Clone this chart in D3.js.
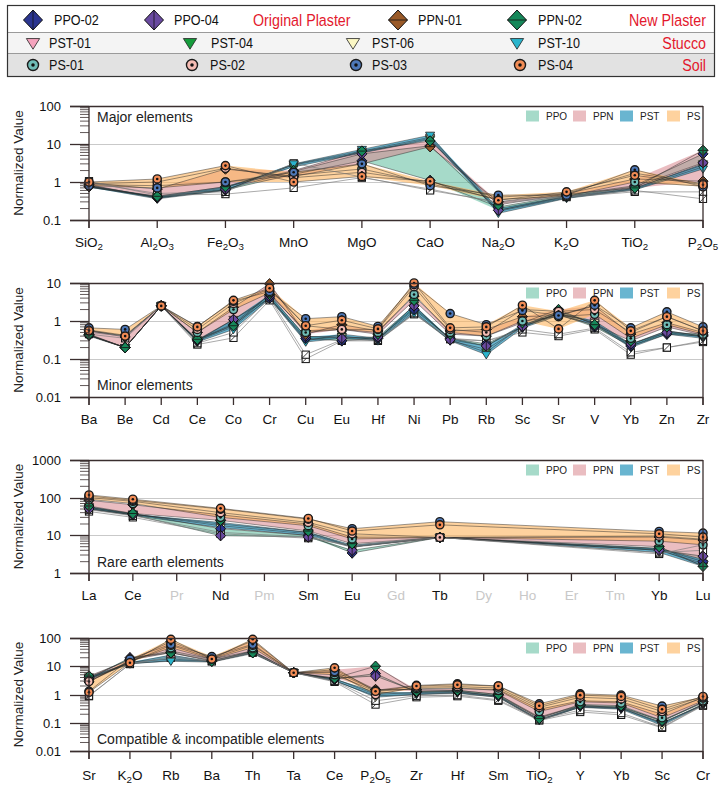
<!DOCTYPE html>
<html><head><meta charset="utf-8">
<script src="https://cdn.jsdelivr.net/npm/d3@7"></script>
<style>body{margin:0;background:#fff}svg{display:block}</style>
</head><body><svg id="c" width="723" height="791"></svg>
<script>
// ---------- samples ----------
const sampleNames  = ["PPO-02","PPO-04","PPN-01","PPN-02","PST-01","PST-04","PST-06","PST-10","PS-01","PS-02","PS-03","PS-04","REF-A","REF-B"];
const sampleGroups = ["PPO","PPO","PPN","PPN","PST","PST","PST","PST","PS","PS","PS","PS","REF","REF"];
const sampleShapes = ["diamondV","diamondV","diamondH","diamondH","tri","tri","tri","tri","circle","circle","circle","circle","square","square"];
const sampleColors = ["#2b3590","#6a4aa0","#9a5a28","#16885a","#f5a3bd","#169c3c","#fbf7c4","#2ab4cc","#6fbcb6","#f6bcb4","#4d78b8","#f28c55","#ffffff","#ffffff"];

const groupNames   = ["PPO","PPN","PST","PS"];
const groupFills   = ["#5dbb9c","#d9868e","#2a96bc","#fdb45e"];
const groupOpacity = [0.55,0.55,0.7,0.6];

// ---------- categories ----------
const majorCats = ["SiO_2","Al_2O_3","Fe_2O_3","MnO","MgO","CaO","Na_2O","K_2O","TiO_2","P_2O_5"];
const minorCats = ["Ba","Be","Cd","Ce","Co","Cr","Cu","Eu","Hf","Ni","Pb","Rb","Sc","Sr","V","Yb","Zn","Zr"];
const reeCats   = ["La","Ce","Pr","Nd","Pm","Sm","Eu","Gd","Tb","Dy","Ho","Er","Tm","Yb","Lu"];
const reeMissing = ["Pr","Pm","Gd","Dy","Ho","Er","Tm"];
const compCats  = ["Sr","K_2O","Rb","Ba","Th","Ta","Ce","P_2O_5","Zr","Hf","Sm","TiO_2","Y","Yb","Sc","Cr"];

// ---------- values (rows in sampleNames order) ----------
const majorValues = [
  [0.85,0.38,0.62,1.6,3.6,1.1,0.22,0.45,0.8,5.5],
  [0.75,0.40,0.65,1.9,5.5,9.0,0.18,0.42,0.75,3.2],
  [0.95,0.65,2.2,1.4,3.0,8.5,0.30,0.50,1.2,1.05],
  [0.78,0.42,0.75,2.0,6.5,12,0.25,0.48,0.7,6.8],
  [0.80,0.40,0.70,2.8,6.0,14,0.18,0.40,0.65,2.5],
  [0.72,0.42,0.75,2.5,5.8,13,0.17,0.38,0.68,3.0],
  [0.78,0.38,0.62,2.9,6.5,15,0.20,0.42,0.70,2.8],
  [0.75,0.36,0.60,3.0,7.2,17,0.15,0.37,0.62,2.2],
  [0.85,0.80,1.0,1.5,2.2,0.9,0.35,0.42,1.0,0.78],
  [0.90,1.0,2.3,1.3,1.8,1.0,0.40,0.50,1.7,0.9],
  [0.80,0.70,1.0,1.8,3.0,0.8,0.45,0.45,2.1,0.75],
  [1.0,1.2,2.7,1.0,1.4,1.05,0.33,0.55,1.5,0.85],
  [1.05,0.45,0.48,0.7,1.3,0.65,0.28,0.40,0.55,0.55],
  [0.95,0.50,0.55,3.1,1.35,0.6,0.30,0.42,0.6,0.36]
];
const minorValues = [
  [0.42,0.2,2.5,0.30,0.80,4.0,0.35,0.30,0.35,2.0,0.35,0.25,0.70,1.5,0.70,0.22,0.45,0.40],
  [0.45,0.2,2.5,0.32,1.10,4.5,0.40,0.35,0.38,2.5,0.32,0.22,0.72,1.6,0.75,0.25,0.50,0.45],
  [0.55,0.38,2.5,0.50,2.30,9.5,0.45,0.80,0.55,4.5,0.55,0.60,1.3,1.4,2.5,0.45,0.90,0.50],
  [0.44,0.2,2.5,0.33,0.75,5.0,0.55,0.60,0.45,3.5,0.45,0.40,0.90,2.0,0.80,0.30,0.70,0.42],
  [0.42,0.2,2.5,0.30,1.10,4.0,0.30,0.45,0.35,2.2,0.35,0.22,0.80,1.5,1.0,0.25,0.55,0.40],
  [0.40,0.2,2.5,0.32,0.85,5.0,0.38,0.40,0.32,2.6,0.32,0.15,0.75,1.8,0.85,0.22,0.50,0.38],
  [0.43,0.2,2.5,0.30,0.70,4.2,0.32,0.38,0.33,1.8,0.30,0.18,0.70,1.6,0.90,0.24,0.55,0.40],
  [0.42,0.2,2.5,0.28,0.60,3.8,0.28,0.35,0.30,1.6,0.30,0.13,0.65,1.4,0.80,0.20,0.45,0.35],
  [0.55,0.40,2.5,0.50,2.0,5.5,0.50,0.60,0.50,5.0,0.50,0.40,1.0,1.3,1.5,0.35,0.80,0.45],
  [0.58,0.42,2.5,0.60,2.9,7.0,0.75,0.60,0.60,8.0,0.60,0.50,2.0,1.8,2.0,0.50,1.3,0.55],
  [0.66,0.60,2.5,0.72,3.3,6.0,1.15,1.3,0.72,9.0,1.57,0.80,1.9,1.4,2.6,0.66,1.74,0.70],
  [0.56,0.40,2.5,0.70,3.5,7.3,0.75,1.05,0.62,10,0.66,0.70,2.6,0.62,3.5,0.55,1.3,0.55],
  [0.50,0.40,2.5,0.24,0.36,3.5,0.10,0.30,0.30,1.5,0.33,0.30,0.50,0.40,0.60,0.13,0.20,0.28],
  [0.45,0.35,2.5,0.26,0.50,4.0,0.13,0.32,0.32,1.6,0.35,0.30,0.60,0.45,0.65,0.15,0.20,0.30]
];
// La, Ce, Pr, Nd, Pm, Sm, Eu, Gd, Tb, Dy, Ho, Er, Tm, Yb, Lu
const reeValues = [
  [55,38,null,15,null,10,3.4,null,8.8,null,null,null,null,4.5,2.0],
  [50,35,null,9.8,null,9,4.0,null,8.8,null,null,null,null,4.0,2.8],
  [85,65,null,35,null,20,9.0,null,8.8,null,null,null,null,9.0,7.5],
  [60,38,null,25,null,13,6.0,null,8.8,null,null,null,null,5.0,1.5],
  [58,37,null,18,null,11,5.0,null,8.8,null,null,null,null,4.5,2.3],
  [55,36,null,20,null,12,5.5,null,8.8,null,null,null,null,4.0,1.8],
  [50,34,null,16,null,10,4.8,null,8.8,null,null,null,null,3.5,1.5],
  [52,35,null,22,null,12,5.0,null,8.8,null,null,null,null,4.2,1.6],
  [90,70,null,30,null,18,8.0,null,8.8,null,null,null,null,7.0,5.6],
  [100,80,null,40,null,22,11,null,8.8,null,null,null,null,9.5,7.9],
  [110,85,null,50,null,27,15,null,23,null,null,null,null,12.7,11.5],
  [118,91,null,52,null,28,13,null,19,null,null,null,null,11,9],
  [43,30,null,11,null,8.4,5.5,null,8.8,null,null,null,null,3.2,5.6],
  [48,33,null,12,null,9,5.0,null,8.8,null,null,null,null,3.5,4.0]
];
const compValues = [
  [4.0,18,35,18,35,5.9,3.5,5.5,1.2,1.3,0.9,0.15,0.40,0.35,0.12,0.50],
  [3.5,20,30,16,32,5.9,3.8,4.5,1.3,1.4,1.0,0.16,0.42,0.38,0.11,0.55],
  [2.8,16,75,20,80,5.9,7.5,1.5,1.5,1.6,1.5,0.30,0.60,0.55,0.20,0.80],
  [4.5,17,30,15,30,5.9,3.8,10,1.3,1.4,1.0,0.14,0.45,0.40,0.12,0.55],
  [3.6,14,18,15,35,5.9,3.5,1.2,1.1,1.2,0.9,0.13,0.40,0.35,0.10,0.45],
  [4.2,13,25,14,32,5.9,3.6,1.0,1.2,1.3,0.85,0.13,0.38,0.33,0.09,0.45],
  [3.8,12,16,15,30,5.9,3.2,0.8,1.0,1.1,0.8,0.12,0.35,0.30,0.08,0.42],
  [3.4,13,15,14,28,5.9,3.0,0.9,1.0,1.15,0.8,0.12,0.36,0.32,0.10,0.42],
  [3.0,15,45,18,45,5.9,5.0,1.3,1.6,1.7,1.4,0.25,0.55,0.50,0.15,0.60],
  [2.9,14,55,19,55,5.9,6.0,1.0,1.8,1.9,1.7,0.35,0.80,0.70,0.25,0.75],
  [1.3,18,60,22,60,5.9,6.5,1.4,2.1,2.4,2.0,0.47,1.05,0.95,0.39,0.80],
  [1.2,13.3,90,18,90,5.9,8.8,1.3,2.0,2.2,2.0,0.40,0.95,0.85,0.30,0.85],
  [0.87,12,20,15,30,5.9,2.8,0.44,0.8,0.87,0.6,0.12,0.24,0.19,0.066,0.40],
  [0.9,12,22,15,32,5.9,3.0,0.60,0.9,0.95,0.65,0.13,0.28,0.22,0.07,0.42]
];

const svg = d3.select("#c");
const AX = "#3a2e2e";
const FONT = "'Liberation Sans', Arial, sans-serif";

// ---------- marker drawing ----------
function marker(g, shape, color, cx, cy, s) {
  const sw = 1;
  if (shape === "diamondV" || shape === "diamondH") {
    const w = s, h = s * 1.05;
    g.append("path").attr("d", `M${cx},${cy-h}L${cx+w},${cy}L${cx},${cy+h}L${cx-w},${cy}Z`)
      .attr("fill", color).attr("stroke", "#111").attr("stroke-width", sw);
    if (shape === "diamondV")
      g.append("line").attr("x1", cx).attr("x2", cx).attr("y1", cy-h).attr("y2", cy+h).attr("stroke", "#111").attr("stroke-width", 0.8);
    else
      g.append("line").attr("x1", cx-w).attr("x2", cx+w).attr("y1", cy).attr("y2", cy).attr("stroke", "#111").attr("stroke-width", 0.8);
  } else if (shape === "tri") {
    const w = s * 0.95, h = s * 0.85;
    g.append("path").attr("d", `M${cx-w},${cy-h*0.75}L${cx+w},${cy-h*0.75}L${cx},${cy+h*1.05}Z`)
      .attr("fill", color).attr("stroke", "#222").attr("stroke-width", 0.8);
  } else if (shape === "circle") {
    const r = s * 0.85;
    g.append("circle").attr("cx", cx).attr("cy", cy).attr("r", r)
      .attr("fill", color).attr("stroke", "#1a1a1a").attr("stroke-width", 1.4);
    g.append("circle").attr("cx", cx).attr("cy", cy).attr("r", r * 0.32).attr("fill", "#111");
  } else if (shape === "square") {
    const a = s * 0.75;
    g.append("rect").attr("x", cx-a).attr("y", cy-a).attr("width", 2*a).attr("height", 2*a)
      .attr("fill", "#fff").attr("stroke", "#111").attr("stroke-width", 1);
    g.append("line").attr("x1", cx-a).attr("y1", cy+a).attr("x2", cx+a).attr("y2", cy-a).attr("stroke", "#111").attr("stroke-width", 0.8);
  }
}

// narrow text via horizontal scaling
function narrowText(g, x, y, anchor, size, color, txt) {
  g.append("text").attr("transform", `translate(${x},${y}) scale(0.84,1)`)
    .attr("text-anchor", anchor).attr("font-family", FONT).attr("font-size", size).attr("fill", color).text(txt);
}

// ---------- top legend ----------
const lg = svg.append("g");
lg.append("rect").attr("x", 7.5).attr("y", 5.5).attr("width", 707).attr("height", 27).attr("fill", "#ffffff");
lg.append("rect").attr("x", 7.5).attr("y", 32.5).attr("width", 707).attr("height", 21).attr("fill", "#f4f4f4");
lg.append("rect").attr("x", 7.5).attr("y", 53.5).attr("width", 707).attr("height", 23).attr("fill", "#e2e2e2");
lg.append("line").attr("x1", 7.5).attr("x2", 714.5).attr("y1", 32.5).attr("y2", 32.5).attr("stroke", "#9a9a9a");
lg.append("line").attr("x1", 7.5).attr("x2", 714.5).attr("y1", 53.5).attr("y2", 53.5).attr("stroke", "#9a9a9a");
lg.append("rect").attr("x", 7.5).attr("y", 5.5).attr("width", 707).attr("height", 71).attr("fill", "none").attr("stroke", "#333").attr("stroke-width", 1.2);

const legendX  = [[33,154,398,517],[33,190,353,517],[33,192,356,520]];
const legendTX = [[54,174,418,538],[49,211,372,538],[49,210,372,538]];
const legendY  = [20,43,65];
const legendRows = [[0,1,2,3],[4,5,6,7],[8,9,10,11]];
legendRows.forEach((row, r) => {
  row.forEach((si, k) => {
    const sh = sampleShapes[si];
    const size = sh.startsWith("diamond") ? 9.5 : (sh === "tri" ? 7 : 6.5);
    marker(lg, sh, sampleColors[si], legendX[r][k], legendY[r], size);
    narrowText(lg, legendTX[r][k], legendY[r] + 5, "start", 15, "#111", sampleNames[si]);
  });
});
const redLabels = [["Original Plaster",253,20,"start"],["New Plaster",706,20,"end"],["Stucco",706,43,"end"],["Soil",706,65,"end"]];
redLabels.forEach(([t, x, y, a]) => narrowText(lg, x, y + 6, a, 17, "#e3182d", t));

// ---------- label with subscripts ----------
function subLabel(sel, label, fs) {
  const parts = label.split(/(_\d)/);
  let shifted = false;
  parts.forEach(p => {
    if (!p) return;
    if (p.startsWith("_")) {
      sel.append("tspan").attr("font-size", fs * 0.72).attr("dy", shifted ? 0 : 3).text(p.slice(1));
      shifted = true;
    } else {
      sel.append("tspan").attr("dy", shifted ? -3 : 0).text(p);
      shifted = false;
    }
  });
}

// ---------- panels ----------
const X0 = 89, X1 = 703, FRAME_L = 70;

function drawPanel(cfg) {
  const g = svg.append("g");
  const n = cfg.cats.length;
  const x = d3.scalePoint().domain(d3.range(n)).range([X0, X1]);
  const y = d3.scaleLog().domain(cfg.domain).range([cfg.bottom, cfg.top]);
  const decades = [];
  for (let e = Math.round(Math.log10(cfg.domain[0])); e <= Math.round(Math.log10(cfg.domain[1])); e++) decades.push(Math.pow(10, e));

  decades.forEach(v => {
    const yy = Math.round(y(v)) + 0.5;
    if (v !== cfg.domain[0] && v !== cfg.domain[1])
      g.append("line").attr("x1", X0).attr("x2", X1).attr("y1", yy).attr("y2", yy).attr("stroke", "#c9c9c9").attr("stroke-width", 1);
  });

  groupNames.forEach((gn, gi) => {
    const idx = sampleGroups.map((s, i) => s === gn ? i : -1).filter(i => i >= 0);
    const pts = [];
    for (let c = 0; c < n; c++) {
      const vals = idx.map(i => cfg.values[i][c]).filter(v => v != null);
      if (vals.length) pts.push({ c, lo: d3.min(vals), hi: d3.max(vals) });
    }
    const area = d3.area().x(d => x(d.c)).y0(d => y(d.lo)).y1(d => y(d.hi));
    g.append("path").attr("d", area(pts)).attr("fill", groupFills[gi]).attr("fill-opacity", groupOpacity[gi]).attr("stroke", "none");
  });

  const line = d3.line().x(d => x(d.c)).y(d => y(d.v));
  d3.range(sampleNames.length).forEach(i => {
    const pts = cfg.values[i].map((v, c) => ({ c, v })).filter(d => d.v != null);
    const isRef = sampleGroups[i] === "REF";
    g.append("path").attr("d", line(pts)).attr("fill", "none")
      .attr("stroke", isRef ? "#777" : "#2a2a2a").attr("stroke-width", isRef ? 0.7 : 0.6).attr("stroke-opacity", isRef ? 0.9 : 0.8);
  });

  const drawOrder = [12,13,4,5,6,7,0,1,2,3,8,9,10,11];
  drawOrder.forEach(i => {
    cfg.values[i].forEach((v, c) => {
      if (v == null) return;
      marker(g, sampleShapes[i], sampleColors[i], x(c), y(v), sampleShapes[i].startsWith("diamond") ? 5 : 4.8);
    });
  });

  g.append("line").attr("x1", FRAME_L).attr("x2", X1).attr("y1", cfg.top + 0.5).attr("y2", cfg.top + 0.5).attr("stroke", AX).attr("stroke-width", 1.3);
  g.append("line").attr("x1", FRAME_L).attr("x2", X1).attr("y1", cfg.bottom + 0.5).attr("y2", cfg.bottom + 0.5).attr("stroke", AX).attr("stroke-width", 1.3);
  g.append("line").attr("x1", X1).attr("x2", X1).attr("y1", cfg.top).attr("y2", cfg.bottom + 8).attr("stroke", AX).attr("stroke-width", 1.3);
  g.append("line").attr("x1", X0).attr("x2", X0).attr("y1", cfg.top).attr("y2", cfg.bottom + 8).attr("stroke", AX).attr("stroke-width", 1.3);

  decades.forEach(v => {
    const yy = Math.round(y(v)) + 0.5;
    g.append("line").attr("x1", FRAME_L).attr("x2", X0).attr("y1", yy).attr("y2", yy).attr("stroke", AX).attr("stroke-width", 1.3);
    g.append("text").attr("x", 61).attr("y", yy + 4.5).attr("text-anchor", "end")
      .attr("font-family", FONT).attr("font-size", 13).attr("fill", "#111")
      .text(v >= 1 ? d3.format("d")(v) : String(v));
  });
  decades.slice(0, -1).forEach(v => {
    for (let k = 2; k <= 9; k++) {
      const yy = y(v * k);
      g.append("line").attr("x1", X0 - 9).attr("x2", X0).attr("y1", yy).attr("y2", yy).attr("stroke", AX).attr("stroke-width", 0.8);
    }
  });

  cfg.cats.forEach((cat, c) => {
    g.append("line").attr("x1", x(c)).attr("x2", x(c)).attr("y1", cfg.bottom).attr("y2", cfg.bottom + 8).attr("stroke", AX).attr("stroke-width", 1.3);
    const dim = cfg.dim && cfg.dim.includes(cat);
    const t = g.append("text").attr("x", x(c)).attr("y", cfg.bottom + cfg.labelDy).attr("text-anchor", "middle")
      .attr("font-family", FONT).attr("font-size", 13.5).attr("fill", dim ? "#c8c8c8" : "#111");
    subLabel(t, cat, 13.5);
  });

  g.append("text").attr("transform", `translate(23,${(cfg.top + cfg.bottom) / 2}) rotate(-90)`)
    .attr("text-anchor", "middle").attr("font-family", FONT).attr("font-size", 13.5).attr("fill", "#222").text("Normalized Value");

  g.append("text").attr("x", 97).attr("y", cfg.titleY).attr("font-family", FONT).attr("font-size", 14).attr("fill", "#222").text(cfg.title);

  const sx = [526, 573, 620, 667];
  groupNames.forEach((gn, gi) => {
    g.append("rect").attr("x", sx[gi]).attr("y", cfg.top + 4.5).attr("width", 13).attr("height", 11)
      .attr("fill", groupFills[gi]).attr("fill-opacity", groupOpacity[gi]);
    g.append("text").attr("x", sx[gi] + 20).attr("y", cfg.top + 13.5).attr("font-family", FONT)
      .attr("font-size", 10).attr("fill", "#222").text(gn);
  });
}

drawPanel({ cats: majorCats, values: majorValues, domain: [0.1, 100], top: 106, bottom: 220, title: "Major elements", titleY: 122, labelDy: 27 });
drawPanel({ cats: minorCats, values: minorValues, domain: [0.01, 10], top: 283, bottom: 397, title: "Minor elements", titleY: 390, labelDy: 27 });
drawPanel({ cats: reeCats, values: reeValues, domain: [1, 1000], top: 460, bottom: 573, title: "Rare earth elements", titleY: 567, labelDy: 27, dim: reeMissing });
drawPanel({ cats: compCats, values: compValues, domain: [0.01, 100], top: 638, bottom: 751, title: "Compatible & incompatible elements", titleY: 744, labelDy: 29 });
</script></body></html>
